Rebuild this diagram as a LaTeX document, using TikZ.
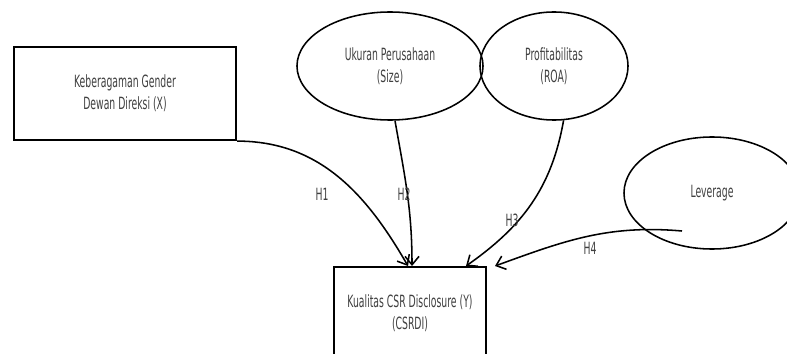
\documentclass[tikz,border=0pt]{standalone}
\usepackage{fontspec}
\setmainfont{DejaVu Sans}[FakeStretch=0.55]
\usepackage{tikz}
\usetikzlibrary{arrows.meta}
\usetikzlibrary{shapes,positioning,calc}

\begin{document}
\begin{tikzpicture}[x=0.025cm, y=0.025cm,
	every node/.style={font=\fontsize{12}{15.5}\selectfont, text=black!75, align=center},
	varbox/.style={draw, line width=1.4pt, inner sep=0pt},
	varoval/.style={draw, ellipse, line width=1.1pt, inner sep=0pt},
	hyp/.style={line width=1.1pt, -{Straight Barb[length=6pt,width=10pt]}}]
% Fix the page to the size of the reference and cut off what runs over
\useasboundingbox (0,0) rectangle (787,-354);
\clip (0,0) rectangle (787,-354);

% Independent and control variables
\node[varbox, minimum width=5.55cm, minimum height=2.33cm] (gender) at (125,-93.5)
	{Keberagaman Gender\\Dewan Direksi (X)};
\node[varoval, minimum width=4.65cm, minimum height=2.7cm] (size) at (390,-66)
	{Ukuran Perusahaan\\(Size)};
\node[varoval, minimum width=3.7cm, minimum height=2.7cm] (roa) at (554,-66)
	{Profitabilitas\\(ROA)};
\node[varoval, minimum width=4.4cm, minimum height=2.8cm] (lev) at (712,-193)
	{Leverage};

% Dependent variable, its lower part runs off the page
\node[varbox, minimum width=3.8cm, minimum height=2.3cm] (csr) at (410,-313)
	{Kualitas CSR Disclosure (Y)\\(CSRDI)};

% Hypotheses
\draw[hyp] (gender.south east) to[out=0, in=120] ($(csr.north)+(-2,0)$);
\draw[hyp] ($(size.south)+(5,0)$) to[out=-80, in=90] ($(csr.north)+(2,0)$);
\draw[hyp] (roa.-80) to[out=-100, in=35] ($(csr.north)+(56,0)$);
\draw[hyp] ($(lev.center)+(-30,-38)$) to[out=175, in=20] ($(csr.north east)+(8,0)$);

\node (h1) at (322,-194) {H1};
\node (h2) at (404,-194) {H2};
\node (h3) at (512,-220) {H3};
\node (h4) at (590,-248) {H4};
\end{tikzpicture}
\end{document}
